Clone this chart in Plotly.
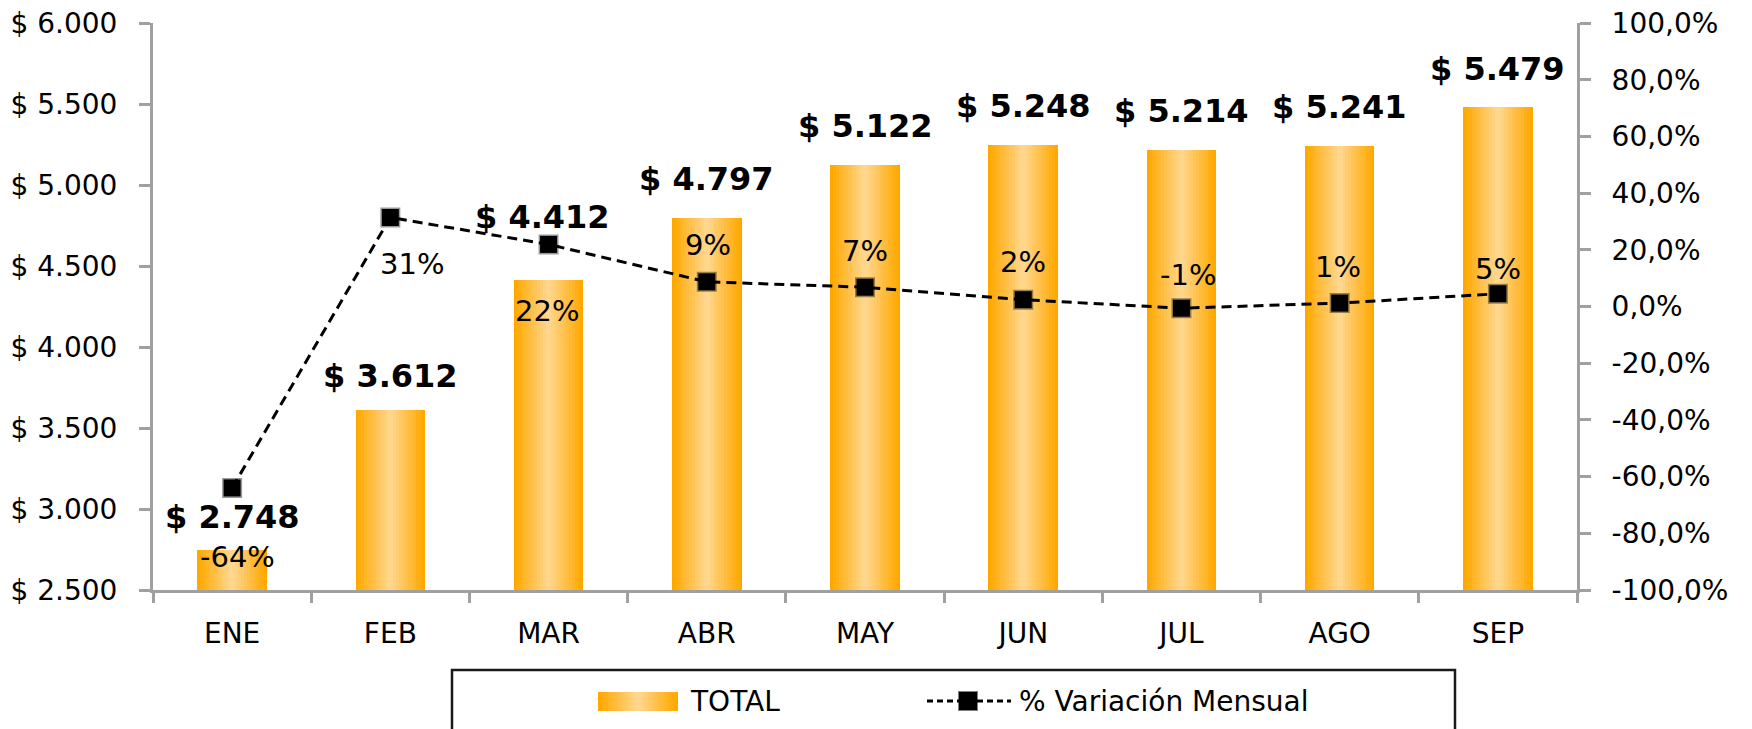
import math
import plotly.graph_objects as go

# ---------------- data ----------------
months = ["ENE", "FEB", "MAR", "ABR", "MAY", "JUN", "JUL", "AGO", "SEP"]
total = [2748, 3612, 4412, 4797, 5122, 5248, 5214, 5241, 5479]
variacion = [-0.64, 0.314, 0.219, 0.087, 0.068, 0.024, -0.006, 0.012, 0.045]
left_ticks = [2500, 3000, 3500, 4000, 4500, 5000, 5500, 6000]
left_ticktext = ["$ 2.500", "$ 3.000", "$ 3.500", "$ 4.000", "$ 4.500", "$ 5.000", "$ 5.500", "$ 6.000"]
right_ticks = [-1.0, -0.8, -0.6, -0.4, -0.2, 0.0, 0.2, 0.4, 0.6, 0.8, 1.0]
right_ticktext = ["-100,0%", "-80,0%", "-60,0%", "-40,0%", "-20,0%", "0,0%",
                  "20,0%", "40,0%", "60,0%", "80,0%", "100,0%"]

# ---------------- style ----------------
W, H = 1752, 729
L, R, T, B = 153, 1577, 23, 590          # plot area in pixels
FONT = "DejaVu Sans"
AXIS_COL = "#A0A0A0"
EDGE = (255, 168, 0)
CENTER = (255, 214, 140)
BAR_W = 0.44
N_STEPS = 12

# label offsets (pixels) relative to the data point
bar_lbl_dy = [33, 34, 63, 39, 39, 39, 39, 39, 38]
bar_lbl_dx = [0, 0, -6, 0, 0, 0, 0, 0, 0]
pct_lbl_dy = [-69, -47, -67, 37, 36, 38, 33, 36, 25]
pct_lbl_dx = [5, 22, -2, 1, 0, 0, 7, -2, 0]


def mix(t):
    c = [round(EDGE[i] + (CENTER[i] - EDGE[i]) * t) for i in range(3)]
    return f"rgb({c[0]},{c[1]},{c[2]})"


def pct_text(v):
    return f"{int(math.floor(v * 100 + 0.5))}%"


fig = go.Figure()

# gradient bars: overlay of progressively narrower bars
for k in range(N_STEPS):
    t = k / (N_STEPS - 1)
    w = BAR_W * (1 - k / N_STEPS)
    fig.add_trace(go.Bar(
        x=months, y=total, width=w, marker=dict(color=mix(t), line=dict(width=0)),
        showlegend=False, hoverinfo="skip" if k else "y", yaxis="y", xaxis="x",
    ))

fig.add_trace(go.Scatter(
    x=months, y=variacion, yaxis="y2", mode="lines+markers",
    line=dict(color="black", width=3, dash="10px,6px"),
    marker=dict(symbol="square", size=17, color="black",
                line=dict(color="rgba(0,0,0,0.4)", width=3)),
    showlegend=False,
))

annotations = []
for i, m in enumerate(months):
    annotations.append(dict(
        x=m, y=total[i], xref="x", yref="y", text="<b>" + f"$ {total[i]:,}".replace(",", ".") + "</b>",
        showarrow=False, yanchor="middle", xanchor="center",
        yshift=bar_lbl_dy[i], xshift=bar_lbl_dx[i],
        font=dict(family=FONT, size=32, color="black"),
    ))
    annotations.append(dict(
        x=m, y=variacion[i], xref="x", yref="y2", text=pct_text(variacion[i]),
        showarrow=False, yanchor="middle", xanchor="center",
        yshift=pct_lbl_dy[i], xshift=pct_lbl_dx[i],
        font=dict(family=FONT, size=29, color="black"),
    ))


def px_x(p):
    return (p - L) / (R - L)


def px_y(p):
    return (B - p) / (B - T)


# ---- custom legend ----
shapes = []
shapes.append(dict(type="rect", xref="paper", yref="paper",
                   x0=px_x(452), x1=px_x(1455), y0=px_y(670), y1=px_y(780),
                   line=dict(color="#1a1a1a", width=2.5), fillcolor="rgba(0,0,0,0)"))
sw0, sw1, sy0, sy1 = 598, 678, 692, 711
for k in range(N_STEPS):
    t = k / (N_STEPS - 1)
    half = (sw1 - sw0) / 2 * (1 - k / N_STEPS)
    cx = (sw0 + sw1) / 2
    shapes.append(dict(type="rect", xref="paper", yref="paper",
                       x0=px_x(cx - half), x1=px_x(cx + half), y0=px_y(sy1), y1=px_y(sy0),
                       line=dict(width=0), fillcolor=mix(t)))
ly = 701
shapes.append(dict(type="line", xref="paper", yref="paper",
                   x0=px_x(927), x1=px_x(1011), y0=px_y(ly), y1=px_y(ly),
                   line=dict(color="black", width=3, dash="6px,4px")))
shapes.append(dict(type="rect", xref="paper", yref="paper",
                   x0=px_x(959), x1=px_x(977), y0=px_y(ly + 9), y1=px_y(ly - 9),
                   line=dict(color="rgba(0,0,0,0.5)", width=2), fillcolor="black"))
annotations.append(dict(x=px_x(688), y=px_y(ly), xref="paper", yref="paper", text="TOTAL",
                        showarrow=False, xanchor="left", yanchor="middle",
                        font=dict(family=FONT, size=28, color="black")))
annotations.append(dict(x=px_x(1017), y=px_y(ly), xref="paper", yref="paper",
                        text="% Variación Mensual", showarrow=False, xanchor="left",
                        yanchor="middle", font=dict(family=FONT, size=28, color="black")))

axis_common = dict(showgrid=False, zeroline=False, showline=True, linecolor=AXIS_COL,
                   linewidth=3, tickcolor=AXIS_COL, tickwidth=3, automargin=False,
                   tickfont=dict(family=FONT, size=28, color="black"))

fig.update_layout(
    width=W, height=H,
    margin=dict(l=L, r=W - R, t=T, b=H - B, pad=0, autoexpand=False),
    paper_bgcolor="white", plot_bgcolor="white",
    barmode="overlay", bargap=0,
    showlegend=False,
    font=dict(family=FONT, color="black"),
    xaxis=dict(**axis_common, type="category", categoryorder="array", categoryarray=months,
               range=[-0.5, len(months) - 0.5], tickson="boundaries", ticks="outside",
               ticklen=10, ticklabelstandoff=16),
    yaxis=dict(**axis_common, range=[left_ticks[0], left_ticks[-1]], tickvals=left_ticks,
               ticktext=left_ticktext, ticks="outside", ticklen=11, ticklabelstandoff=16),
    yaxis2=dict(**axis_common, overlaying="y", side="right", anchor="x",
                range=[right_ticks[0], right_ticks[-1]], tickvals=right_ticks,
                ticktext=right_ticktext, ticks="outside", ticklen=11, ticklabelstandoff=15),
    yaxis3=dict(overlaying="y", side="left", anchor="x", range=[left_ticks[0], left_ticks[-1]],
                tickvals=left_ticks, ticks="inside", ticklen=10, tickwidth=3,
                tickcolor=AXIS_COL, showticklabels=False, showline=False, showgrid=False,
                zeroline=False, automargin=False),
    yaxis4=dict(overlaying="y", side="right", anchor="x", range=[right_ticks[0], right_ticks[-1]],
                tickvals=right_ticks, ticks="inside", ticklen=10, tickwidth=3,
                tickcolor=AXIS_COL, showticklabels=False, showline=False, showgrid=False,
                zeroline=False, automargin=False),
    annotations=annotations,
    shapes=shapes,
)

fig.write_html("out.html", config={"displayModeBar": False},
               post_script="document.body.style.margin='0';document.body.style.overflow='hidden';")
